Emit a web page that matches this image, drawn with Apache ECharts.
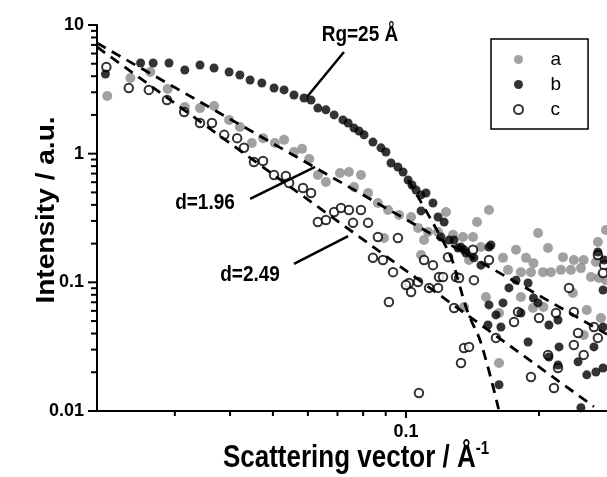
<!DOCTYPE html>
<html>
<head>
<meta charset="utf-8">
<script src="https://cdn.jsdelivr.net/npm/echarts@6/dist/echarts.min.js"></script>
<style>
  html, body { margin: 0; padding: 0; background: #fff; }
  #chart { width: 607px; height: 477px; }
</style>
</head>
<body>
<div id="chart"></div>
<script>
var FONT = '"Liberation Sans", Arial, sans-serif';

// axis range and ticks
var X_MIN = 0.02, X_MAX = 0.285;
var Y_MIN = 0.01, Y_MAX = 10;
var xMajor = [0.1];
var xMinor = [0.03, 0.04, 0.05, 0.06, 0.07, 0.08, 0.09, 0.2];
var yMajor = [0.01, 0.1, 1, 10];
var yMinor = [0.02, 0.03, 0.04, 0.05, 0.06, 0.07, 0.08, 0.09,
              0.2, 0.3, 0.4, 0.5, 0.6, 0.7, 0.8, 0.9,
              2, 3, 4, 5, 6, 7, 8, 9];

// sample a (grey)
var aQ = [0.0211,0.0238,0.0264,0.0289,0.0316,0.0342,0.0368,0.0398,0.0421,0.0448,
          0.0475,0.0505,0.0530,0.0558,0.0582,0.0604,0.0632,0.0659,0.0709,0.0743,
          0.0791,0.0763,0.0821,0.0864,0.0911,0.0965,0.1027,0.1065,0.1122,0.1232,
          0.0892,0.1082,0.1182,0.1278,0.1346,0.1418,0.1448,0.1389,0.1478,0.1541,
          0.1099,0.1990,0.2096,0.1658,0.1774,0.1869,0.1943,0.1702,0.1820,0.1918,
          0.2042,0.2128,0.2266,0.2398,0.2524,0.2690,0.2242,0.2362,0.2488,0.2621,
          0.2733,0.2834,0.2834,0.2718,0.1517,0.1820,0.1938,0.2047,0.1624,0.2386,
          0.2565,0.2761,0.2524,0.1624,0.1353,0.1404];
var aI = [2.81,3.87,4.31,3.18,2.30,2.26,2.35,1.83,1.61,1.21,
          1.32,1.21,1.28,1.03,1.09,0.910,0.683,0.602,0.708,0.721,
          0.683,0.551,0.495,0.414,0.365,0.334,0.322,0.265,0.246,0.352,
          0.221,0.163,0.246,0.234,0.225,0.225,0.294,0.149,0.188,0.365,
          0.213,0.242,0.185,0.155,0.179,0.155,0.141,0.125,0.120,0.120,
          0.120,0.120,0.157,0.149,0.149,0.144,0.125,0.125,0.129,0.110,
          0.108,0.104,0.255,0.206,0.0770,0.0770,0.0632,0.0644,0.0578,0.0827,
          0.0610,0.0529,0.0390,0.0236,0.0644,0.163];

// sample b (black)
var bQ = [0.0209,0.0251,0.0268,0.0291,0.0316,0.0342,0.0368,0.0398,0.0421,0.0444,
          0.0472,0.0503,0.0530,0.0558,0.0588,0.0610,0.0632,0.0659,0.0688,0.0720,
          0.0740,0.0763,0.0783,0.0804,0.0842,0.0878,0.0901,0.0925,0.0959,0.0985,
          0.1011,0.1032,0.1054,0.1082,0.1110,0.1082,0.1151,0.1182,0.1220,0.1200,
          0.1285,0.1332,0.1367,0.1252,0.1312,0.1353,0.1541,0.1425,0.1478,0.1557,
          0.1774,0.1710,0.1889,0.1943,0.1658,0.1990,0.1598,0.1533,0.1640,0.2106,
          0.2208,0.1889,0.2220,0.2106,0.2208,0.2663,0.2451,0.2565,0.2690,0.2792,
          0.1624,0.2488,0.2808,0.2718,0.2792,0.2792,0.1541,0.1820];
var bI = [4.16,5.07,5.07,5.07,4.47,4.89,4.63,4.31,4.09,3.74,
          3.54,3.24,3.13,2.86,2.71,2.61,2.26,2.19,2.00,1.83,
          1.73,1.58,1.50,1.40,1.23,1.11,1.03,0.847,0.788,0.721,
          0.624,0.571,0.522,0.478,0.495,0.359,0.414,0.322,0.294,0.225,
          0.213,0.188,0.169,0.213,0.185,0.179,0.188,0.155,0.136,0.195,
          0.104,0.0905,0.0989,0.0756,0.0692,0.0692,0.0558,0.0466,0.0450,0.0466,
          0.0510,0.0344,0.0315,0.0263,0.0228,0.0315,0.0241,0.0191,0.0201,0.0216,
          0.0160,0.0106,0.149,0.172,0.0872,0.0450,0.0668,0.0578];

// sample c (open)
var cQ = [0.0210,0.0236,0.0262,0.0288,0.0315,0.0342,0.0364,0.0388,0.0415,0.0430,
          0.0453,0.0475,0.0503,0.0535,0.0544,0.0585,0.0610,0.0632,0.0659,0.0688,
          0.0713,0.0743,0.0791,0.0759,0.0821,0.0864,0.0959,0.0842,0.0887,0.0935,
          0.1016,0.1065,0.1128,0.1188,0.1245,0.1298,0.1418,0.1425,0.1541,0.0915,
          0.1027,0.1285,0.1353,0.1389,0.1332,0.1598,0.1070,0.1793,0.1918,0.2096,
          0.2162,0.2398,0.2524,0.2718,0.2718,0.2808,0.1756,0.2000,0.2185,0.2338,
          0.2398,0.2663,0.1099,0.1151,0.1213,0.1319,0.2208,0.2451,0.2792,0.1000,
          0.1182];
var cI = [4.72,3.24,3.13,2.61,2.11,1.73,1.73,1.40,1.32,1.11,
          0.861,0.878,0.683,0.671,0.592,0.541,0.495,0.294,0.305,0.352,
          0.379,0.365,0.365,0.290,0.290,0.225,0.221,0.155,0.149,0.120,
          0.0989,0.1007,0.0905,0.110,0.157,0.110,0.179,0.104,0.149,0.0704,
          0.0842,0.0632,0.0309,0.0315,0.0236,0.0370,0.0138,0.0589,0.0184,0.0273,
          0.0151,0.0326,0.0273,0.0370,0.163,0.136,0.0492,0.0529,0.0578,0.0905,
          0.0589,0.0450,0.149,0.136,0.110,0.108,0.0216,0.0404,0.118,0.0954,
          0.0905];

// fitted lines (dashed)
var fit196Q = [0.02, 0.285];
var fit196I = [7.24, 0.0395];
var fit249Q = [0.02, 0.2663];
var fit249I = [6.75, 0.0108];
var guinierQ = [0.1011, 0.1151, 0.1264, 0.1311, 0.1382, 0.1478, 0.1624];
var guinierI = [0.624, 0.289, 0.157, 0.1045, 0.0578, 0.0338, 0.0100];

// annotations: label anchor and leader line ends
var labels = [
  { text: 'Rg=25 Å', q: 0.0787, i: 8.36 },
  { text: 'd=1.96', q: 0.0351, i: 0.414 },
  { text: 'd=2.49', q: 0.0444, i: 0.114 }
];
var leaderRgQ = [0.0724, 0.0597], leaderRgI = [6.17, 2.76];
var leader196Q = [0.0444, 0.0623], leader196I = [0.445, 0.788];
var leader249Q = [0.0558, 0.0740], leader249I = [0.139, 0.229];

function pairs(qs, is) {
  return qs.map(function(q, k) { return [q, is[k]]; });
}

function fmt(v) {
  return String(parseFloat(Number(v).toPrecision(6)));
}

function dashed(q, i, smooth, z) {
  return {
    type: 'line', data: pairs(q, i), symbol: 'none', showSymbol: false,
    smooth: smooth || false, silent: true, z: z || 6,
    lineStyle: { color: '#000', width: 2.8, type: [10, 7] }
  };
}

function leader(q, i) {
  return {
    type: 'line', data: pairs(q, i), symbol: 'none', showSymbol: false,
    silent: true, z: 7,
    lineStyle: { color: '#000', width: 2.5 }
  };
}

var myChart = echarts.init(document.getElementById('chart'), null, { renderer: 'canvas' });

var option = {
  animation: false,
  backgroundColor: '#fff',
  grid: { left: 97, top: 25, right: 0, bottom: 66 },
  legend: {
    data: ['a', 'b', 'c'],
    orient: 'vertical',
    left: 491, top: 39,
    padding: [11, 27, 10, 22],
    itemWidth: 54, itemHeight: 9, itemGap: 6,
    borderColor: '#000', borderWidth: 1.5,
    textStyle: { fontSize: 19, lineHeight: 19, color: '#000', fontFamily: FONT }
  },
  xAxis: {
    type: 'log', logBase: 10, min: X_MIN, max: X_MAX, position: 'bottom',
    axisLine: { show: true, onZero: false, lineStyle: { color: '#000', width: 2 } },
    axisTick: { show: false },
    axisLabel: { customValues: xMajor, formatter: fmt, margin: 12, color: '#000',
                 fontSize: 18, fontWeight: 'bold', fontFamily: FONT },
    splitLine: { show: false }, minorTick: { show: false }
  },
  yAxis: {
    type: 'log', logBase: 10, min: Y_MIN, max: Y_MAX, position: 'left',
    axisLine: { show: true, onZero: false, lineStyle: { color: '#000', width: 2 } },
    axisTick: { show: false },
    axisLabel: { customValues: yMajor, formatter: fmt, margin: 13, color: '#000',
                 fontSize: 18, fontWeight: 'bold', fontFamily: FONT },
    splitLine: { show: false }, minorTick: { show: false }
  },
  series: [
    { name: 'a', type: 'scatter', data: pairs(aQ, aI), symbol: 'circle', symbolSize: 10,
      itemStyle: { color: '#8a8a8a' }, z: 2 },
    { name: 'c', type: 'scatter', data: pairs(cQ, cI), symbol: 'circle', symbolSize: 8.5,
      itemStyle: { color: '#fff', borderColor: '#000', borderWidth: 2 }, z: 3 },
    dashed(guinierQ, guinierI, 0.4, 3.5),
    { name: 'b', type: 'scatter', data: pairs(bQ, bI), symbol: 'circle', symbolSize: 9,
      itemStyle: { color: '#000' }, z: 4 },
    dashed(fit196Q, fit196I),
    dashed(fit249Q, fit249I),
    leader(leaderRgQ, leaderRgI),
    leader(leader196Q, leader196I),
    leader(leader249Q, leader249I)
  ]
};

myChart.setOption(option);

function toPx(q, i) {
  return myChart.convertToPixel({ xAxisIndex: 0, yAxisIndex: 0 }, [q, i]);
}

// tick marks placed through the axes' scales
function tickLines(values, onX, len) {
  return values.map(function(v) {
    var p = onX ? toPx(v, Y_MIN) : toPx(X_MIN, v);
    var shape = onX
      ? { x1: p[0], y1: p[1], x2: p[0], y2: p[1] + len }
      : { x1: p[0], y1: p[1], x2: p[0] - len, y2: p[1] };
    return { type: 'line', shape: shape, silent: true, z: 9,
             style: { stroke: '#000', lineWidth: 2 } };
  });
}

// text placed from data anchors, plus the two axis titles
var graphics = labels.map(function(l) {
  var p = toPx(l.q, l.i);
  return {
    type: 'text', x: p[0], y: p[1], scaleY: 1.12, z: 10,
    style: { text: l.text, fill: '#000', align: 'center', verticalAlign: 'middle',
             font: 'bold 19px ' + FONT }
  };
});
graphics = graphics
  .concat(tickLines(xMajor, true, 7))
  .concat(tickLines(xMinor, true, 5))
  .concat(tickLines(yMajor, false, 9))
  .concat(tickLines(yMinor, false, 6));
graphics.push({
  type: 'text', x: 356, y: 458, scaleY: 1.2, z: 10,
  style: {
    text: '{m|Scattering vector / Å}{s|-1}', align: 'center', verticalAlign: 'middle',
    rich: {
      m: { fontSize: 26, fontWeight: 'bold', fontFamily: FONT, fill: '#000', lineHeight: 30 },
      s: { fontSize: 15, fontWeight: 'bold', fontFamily: FONT, fill: '#000', verticalAlign: 'top', lineHeight: 16 }
    }
  }
});
graphics.push({
  type: 'text', x: 47, y: 210, rotation: Math.PI / 2, scaleX: 1.08, z: 10,
  style: { text: 'Intensity / a.u.', fill: '#000', align: 'center', verticalAlign: 'middle',
           font: 'bold 26px ' + FONT }
});
myChart.setOption({ graphic: graphics });
</script>
</body>
</html>
